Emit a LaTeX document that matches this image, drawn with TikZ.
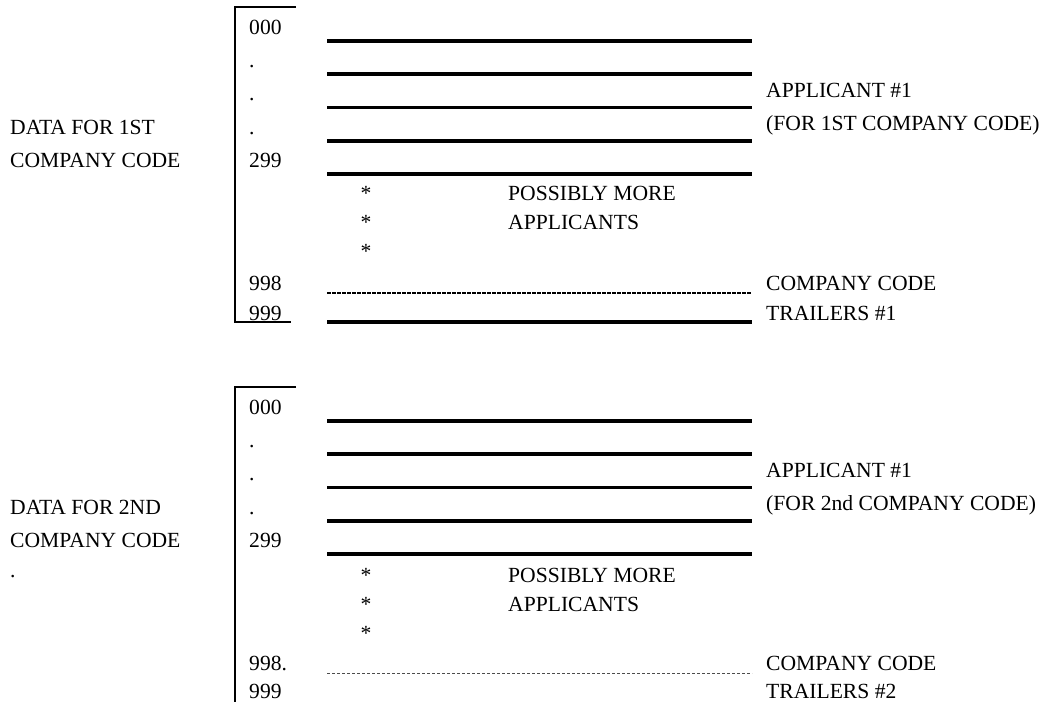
\documentclass[tikz,border=0pt]{standalone}
\usepackage{fontspec}
\setmainfont{Liberation Serif}
\tikzset{
  txt/.style={anchor=base west, inner sep=0pt, font=\fontsize{21.6}{26}\selectfont},
  ast/.style={anchor=base, inner sep=0pt, font=\fontsize{21.6}{26}\selectfont},
  rec/.style={line width=3.5pt},
  frame/.style={line width=2pt},
  dashA/.style={line width=2pt, dash pattern=on 3.5pt off 1.5pt},
  dashB/.style={line width=0.8pt, dash pattern=on 3pt off 2pt, black!70},
}
\begin{document}
\begin{tikzpicture}[x=1pt,y=-1pt]
\useasboundingbox (0,0) rectangle (1041,702);

% ---------- block 1 ----------
\coordinate (f1a) at (296,7);
\coordinate (f1b) at (235,7);
\coordinate (f1c) at (235,322);
\coordinate (f1d) at (291,322);
\draw[frame] (f1a) -- (f1b) -- (f1c) -- (f1d);

\node[txt] (a000) at (249,34) {000};
\node[txt] (ad1) at (249,67) {.};
\node[txt] (ad2) at (249,100.5) {.};
\node[txt] (ad3) at (249,134) {.};
\node[txt] (a299) at (249,167) {299};

\foreach \y [count=\i] in {41,74,107.5,141,174}{
  \coordinate (aL\i) at (327,\y);
  \coordinate (aR\i) at (752,\y);
  \draw[rec] (aL\i) -- (aR\i);
}

\node[ast] (as1) at (366,200) {*};
\node[ast] (as2) at (366,229) {*};
\node[ast] (as3) at (366,258) {*};
\node[txt] (apm) at (508,200) {POSSIBLY MORE};
\node[txt] (aap) at (508,229) {APPLICANTS};

\node[txt] (a998) at (249,290) {998};
\node[txt] (a999) at (249,320) {999};
\coordinate (adL) at (327,293);
\coordinate (adR) at (752,293);
\draw[dashA] (adL) -- (adR);
\coordinate (abL) at (327,322);
\coordinate (abR) at (752,322);
\draw[rec] (abL) -- (abR);

\node[txt] (aapp) at (766,97) {APPLICANT \#1};
\node[txt] (afor) at (766,130) {(FOR 1ST COMPANY CODE)};
\node[txt] (acc) at (766,290) {COMPANY CODE};
\node[txt] (atr) at (766,320) {TRAILERS \#1};

\node[txt] (adata) at (10,134) {DATA FOR 1ST};
\node[txt] (acode) at (10,167) {COMPANY CODE};

% ---------- block 2 ----------
\coordinate (f2a) at (296,387);
\coordinate (f2b) at (235,387);
\coordinate (f2c) at (235,702);
\draw[frame] (f2a) -- (f2b) -- (f2c);

\node[txt] (b000) at (249,414) {000};
\node[txt] (bd1) at (249,447) {.};
\node[txt] (bd2) at (249,480.5) {.};
\node[txt] (bd3) at (249,514) {.};
\node[txt] (b299) at (249,547) {299};

\foreach \y [count=\i] in {421,454,487.5,521,554}{
  \coordinate (bL\i) at (327,\y);
  \coordinate (bR\i) at (752,\y);
  \draw[rec] (bL\i) -- (bR\i);
}

\node[ast] (bs1) at (366,582) {*};
\node[ast] (bs2) at (366,611) {*};
\node[ast] (bs3) at (366,640) {*};
\node[txt] (bpm) at (508,582) {POSSIBLY MORE};
\node[txt] (bap) at (508,611) {APPLICANTS};

\node[txt] (b998) at (249,670) {998.};
\node[txt] (b999) at (249,698) {999};
\coordinate (bdL) at (327,673);
\coordinate (bdR) at (752,673);
\draw[dashB] (bdL) -- (bdR);

\node[txt] (bapp) at (766,477) {APPLICANT \#1};
\node[txt] (bfor) at (766,510) {(FOR 2nd COMPANY CODE)};
\node[txt] (bcc) at (766,670) {COMPANY CODE};
\node[txt] (btr) at (766,698) {TRAILERS \#2};

\node[txt] (bdata) at (10,514) {DATA FOR 2ND};
\node[txt] (bcode) at (10,547) {COMPANY CODE};
\node[txt] (bdot) at (10,577) {.};
\end{tikzpicture}
\end{document}
